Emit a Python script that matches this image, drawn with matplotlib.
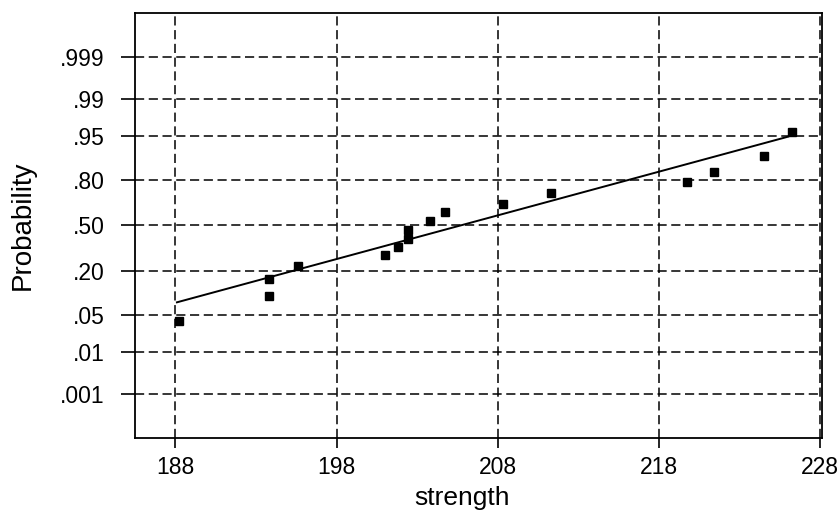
import numpy as np
import matplotlib
matplotlib.use("Agg")
import matplotlib.pyplot as plt

plt.rcParams['font.family'] = ['Liberation Sans', 'DejaVu Sans']

# strength values (sorted) and normal scores
strength = [188.25, 193.8, 193.8, 195.6, 201.0, 201.8, 202.4, 202.4,
            203.8, 204.7, 208.3, 211.3, 219.7, 221.4, 224.5, 226.25]
zscore = [-1.76, -1.29, -0.99, -0.75, -0.55, -0.39, -0.24, -0.09,
          0.09, 0.24, 0.40, 0.59, 0.79, 0.99, 1.27, 1.72]

# fitted normal line (end points)
fit_x = [188.1, 226.0]
fit_z = [-1.41, 1.63]

# probability ticks and their normal quantiles
prob_labels = ['.001', '.01', '.05', '.20', '.50', '.80', '.95', '.99', '.999']
prob_z = [-3.09, -2.326, -1.645, -0.842, 0.0, 0.842, 1.645, 2.326, 3.09]
x_ticks = [188, 198, 208, 218, 228]

fig = plt.figure(figsize=(8.39, 5.17), dpi=100)
ax = fig.add_axes([0.1609, 0.1528, 0.9797 - 0.1609, 0.9749 - 0.1528])

ax.plot(fit_x, fit_z, color='black', lw=1.4, zorder=3)
ax.plot(strength, zscore, 's', color='black', ms=5.5, zorder=4)

ax.set_xlim(185.5, 228.1)
ax.set_ylim(-3.9, 3.9)
ax.set_xticks(x_ticks)
ax.set_yticks(prob_z)
ax.set_yticklabels(prob_labels)

ax.grid(True, color='black', linestyle=(0, (6, 3)), lw=1.1)
ax.set_axisbelow(True)
ax.tick_params(direction='out', length=7, width=1.2, labelsize=16.5)
ax.tick_params(axis='x', pad=6)
ax.tick_params(axis='y', length=10, pad=12)

for s in ax.spines.values():
    s.set_linewidth(1.3)

ax.set_xlabel('strength', fontsize=19)
ax.set_ylabel('Probability', fontsize=20)
ax.xaxis.set_label_coords((462 - 135) / 687, -0.112)
ax.yaxis.set_label_coords(-0.145, 0.5)

fig.savefig('out.png', dpi=100)
